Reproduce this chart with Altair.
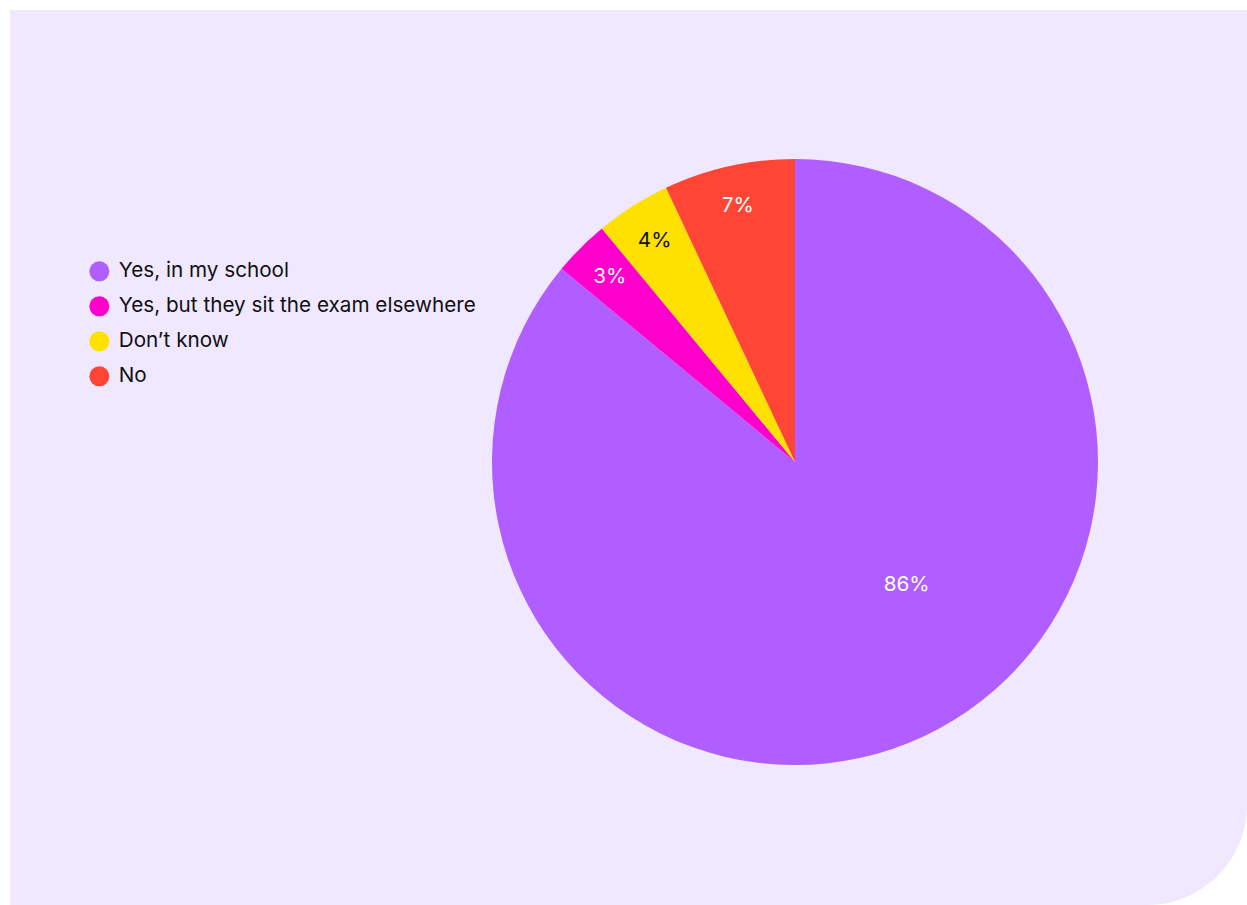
import altair as alt
import pandas as pd

categories = ["Yes, in my school", "Yes, but they sit the exam elsewhere", "Don’t know", "No"]
values = [86, 3, 4, 7]
labels = ["86%", "3%", "4%", "7%"]
colors = ["#B05EFF", "#FF00CC", "#FFE100", "#FF4636"]
label_colors = ["#FFFFFF", "#FFFFFF", "#111111", "#FFFFFF"]
order = [0, 1, 2, 3]

df = pd.DataFrame({
    "category": categories,
    "value": values,
    "label": labels,
    "label_color": label_colors,
    "order": order,
})

W, H = 1247, 905
FONT = "Inter"
FS = 20.7
CX, CY, R = 795, 462, 303

bg = alt.Chart(pd.DataFrame({"a": [0]})).mark_rect(
    color="#F0E8FF", cornerRadiusBottomRight=100
).encode(x=alt.value(10), x2=alt.value(W), y=alt.value(10), y2=alt.value(905))

theta_scale = alt.Scale(domain=[0, 100])
base = alt.Chart(df).encode(x=alt.value(CX), y=alt.value(CY))

pie = base.mark_arc(outerRadius=R).encode(
    theta=alt.Theta("value:Q", stack=True, scale=theta_scale),
    color=alt.Color(
        "category:N",
        scale=alt.Scale(domain=categories, range=colors),
        sort=categories,
        legend=alt.Legend(
            title=None,
            orient="none",
            legendX=89,
            legendY=261,
            symbolType="circle",
            symbolSize=400,
            symbolStrokeWidth=0,
            symbolOpacity=1,
            labelFont=FONT,
            labelFontSize=FS,
            labelColor="#111111",
            labelOffset=9,
            rowPadding=13,
            labelLimit=600,
        ),
    ),
    order=alt.Order("order:Q"),
)

txt = base.transform_window(
    cum="sum(value)", sort=[alt.SortField("order")], frame=[None, 0]
).transform_calculate(mid="datum.cum - datum.value / 2")

small = txt.transform_filter("datum.value < 50").mark_text(
    radius=262, font=FONT, fontSize=FS, align="center", baseline="middle"
).encode(
    theta=alt.Theta("mid:Q", stack=False, scale=theta_scale),
    text="label:N",
    fill=alt.Fill("label_color:N", scale=None, legend=None),
)

big = txt.transform_filter("datum.value >= 50").mark_text(
    radius=166, dx=41, dy=-27, font=FONT, fontSize=FS, align="center", baseline="middle"
).encode(
    theta=alt.Theta("mid:Q", stack=False, scale=theta_scale),
    text="label:N",
    fill=alt.Fill("label_color:N", scale=None, legend=None),
)

chart = alt.layer(bg, pie, small, big).properties(
    width=W, height=H, autosize=alt.AutoSizeParams(type="none"), padding=0, background="white"
).configure_view(stroke=None)

chart.save("out.html", embed_options={"renderer": "svg", "actions": False})
